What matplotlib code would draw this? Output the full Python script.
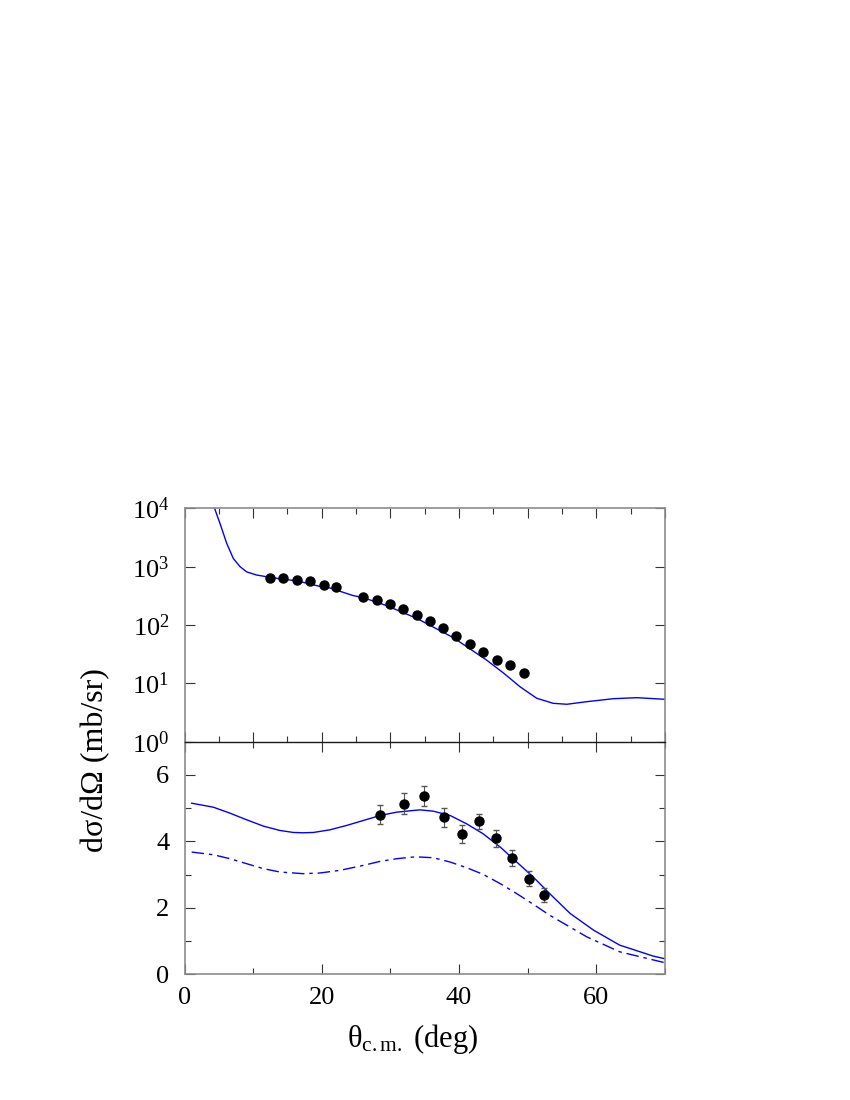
import numpy as np
import matplotlib
matplotlib.use("Agg")
import matplotlib.pyplot as plt
from matplotlib.ticker import MultipleLocator, LogLocator, NullLocator

plt.rcParams["font.family"] = ["Liberation Serif", "DejaVu Serif"]
plt.rcParams["mathtext.fontset"] = "custom"
plt.rcParams["mathtext.rm"] = "Liberation Serif"
plt.rcParams["mathtext.it"] = "Liberation Serif:italic"

# Daten: oberes Panel (log)
theta_top = [12.5, 14.4, 16.4, 18.3, 20.3, 22.1, 26.0, 28.0, 29.9, 31.9,
             33.8, 35.7, 37.7, 39.6, 41.6, 43.5, 45.5, 47.4, 49.4]
xs_top = [632, 641, 600, 562, 487, 444, 300, 270, 228, 187,
          150, 115, 88, 66, 48, 33.8, 25.6, 20.8, 14.8]

curve_top_x = [4.2, 4.44, 5.17, 6.15, 7.11, 8.09, 9.06, 10.5,
               12.46, 14.6, 16.3, 19.6, 21.2, 24.5, 26.05, 29.4, 33.3, 34.4,
               39.2, 44.0, 46.45, 48.9, 51.3, 53.7, 55.7, 58.6, 62.5, 65.9, 70.0]
curve_top_y = [12000, 9550, 5500, 2510, 1380, 1000, 813, 719,
               656, 603, 575, 462, 431, 321, 294, 216, 138, 120,
               60.3, 25.1, 15.1, 8.71, 5.56, 4.55, 4.38, 4.85, 5.46, 5.68, 5.33]

# Daten: unteres Panel (linear)
theta_bot = [28.55, 31.95, 34.9, 37.8, 40.4, 42.85, 45.4, 47.7, 50.15, 52.4]
xs_bot = [4.81, 5.14, 5.37, 4.72, 4.22, 4.60, 4.09, 3.50, 2.88, 2.39]
err_bot = [0.30, 0.32, 0.31, 0.29, 0.26, 0.24, 0.25, 0.24, 0.22, 0.20]

solid_x = [1.04, 4.2, 6.63, 9.06, 11.5, 13.9, 15.85, 17.3, 18.8, 21.2,
           23.6, 26.05, 28.5, 30.9, 33.3, 34.3, 36.25, 38.7, 41.1, 43.5,
           46.0, 48.4, 50.8, 53.2, 56.2, 59.6, 63.4, 68.3, 70.0]
solid_y = [5.15, 5.03, 4.85, 4.65, 4.46, 4.33, 4.27, 4.26, 4.27, 4.35,
           4.48, 4.63, 4.78, 4.88, 4.93, 4.95, 4.91, 4.78, 4.53, 4.23,
           3.83, 3.38, 2.93, 2.43, 1.83, 1.33, 0.88, 0.55, 0.47]

dashdot_x = [1.04, 4.2, 6.63, 9.06, 11.5, 13.9, 17.3, 19.7, 22.65, 26.05,
             28.5, 30.9, 33.3, 34.3, 36.25, 38.7, 41.1, 43.5, 46.0, 48.4,
             50.8, 53.2, 58.6, 63.4, 70.0]
dashdot_y = [3.68, 3.60, 3.48, 3.33, 3.18, 3.08, 3.03, 3.05, 3.13, 3.28,
             3.40, 3.48, 3.53, 3.53, 3.51, 3.38, 3.21, 3.01, 2.73, 2.43,
             2.11, 1.78, 1.13, 0.68, 0.35]

fig = plt.figure(figsize=(8.5, 11), dpi=100)
left, right = 184.5 / 850, 665 / 850
y_top, y_mid, y_bot = 1 - 508.3 / 1100, 1 - 741.7 / 1100, 1 - 974.4 / 1100
ax1 = fig.add_axes([left, y_mid, right - left, y_top - y_mid])
ax2 = fig.add_axes([left, y_bot, right - left, y_mid - y_bot])

blue = "#0000ff"

ax1.plot(curve_top_x, curve_top_y, color=blue, lw=1.0)
ax1.plot(theta_top, xs_top, "o", color="black", ms=6.5)
ax1.set_yscale("log")
ax1.set_ylim(1, 1e4)
ax1.set_xlim(0, 70)
ax1.yaxis.set_major_locator(LogLocator(base=10, numticks=10))
ax1.yaxis.set_minor_locator(NullLocator())
ax1.xaxis.set_major_locator(MultipleLocator(10))
ax1.xaxis.set_minor_locator(MultipleLocator(5))

ax2.plot(solid_x, solid_y, color=blue, lw=1.0)
ax2.plot(dashdot_x, dashdot_y, color=blue, lw=1.0,
         linestyle=(0, (9, 3.5, 2.5, 3.5)))
ax2.errorbar(theta_bot, xs_bot, yerr=err_bot, fmt="o", color="black",
             ms=6.5, ecolor="#555555", elinewidth=0.8, capsize=2)
ax2.set_ylim(0, 7)
ax2.set_xlim(0, 70)
ax2.yaxis.set_major_locator(MultipleLocator(2))
ax2.yaxis.set_minor_locator(MultipleLocator(1))
ax2.xaxis.set_major_locator(MultipleLocator(20))
ax2.xaxis.set_minor_locator(MultipleLocator(10))

for ax in (ax1, ax2):
    ax.tick_params(which="both", direction="in", top=True, right=True,
                   labelsize=19, color="#333333")
    ax.tick_params(which="major", length=7, width=0.8)
    ax.tick_params(which="minor", length=4, width=0.8)
    ax.tick_params(axis="y", pad=11)
    ax.tick_params(axis="x", pad=9)
    for s in ax.spines.values():
        s.set_color("0.55")
        s.set_linewidth(1.2)

# gemeinsame Trennlinie dunkel (ax2 liegt oben, daher dort zeichnen)
ax1.spines["bottom"].set_visible(False)
ax2.spines["top"].set_color("0.1")
ax2.spines["top"].set_linewidth(1.0)
ax1.tick_params(axis="x", labelbottom=False)

fig.text(96 / 850, 1 - 760 / 1100, "dσ/dΩ (mb/sr)", rotation=90,
         ha="center", va="center", fontsize=23)
fig.text(413 / 850, 1 - 1047 / 1100, r"θ$_{\mathrm{c.m.}}$ (deg)",
         ha="center", va="baseline", fontsize=22)

fig.savefig("out.png", dpi=100)
